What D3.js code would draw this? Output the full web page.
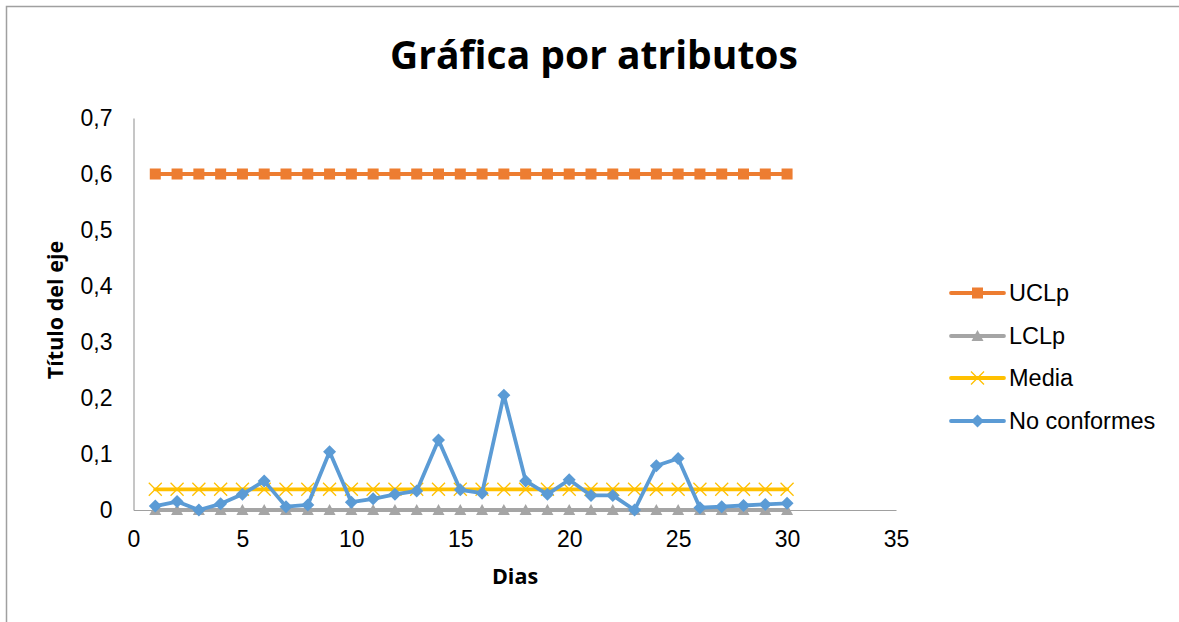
<!DOCTYPE html>
<html>
<head>
<meta charset="utf-8">
<script src="https://cdn.jsdelivr.net/npm/d3@7"></script>
<style>
  html, body { margin: 0; padding: 0; background: #fff; }
  svg { display: block; }
  text { font-family: "Liberation Sans", Arial, sans-serif; fill: #000; }
  .heading { font-family: "Open Sans", "Liberation Sans", sans-serif; font-weight: bold; }
</style>
</head>
<body>
<svg id="chart" width="1179" height="622"></svg>
<script>
// Days and series values
const dias = d3.range(1, 31);
const noConformes = [0.007, 0.015, 0.0, 0.011, 0.028, 0.052, 0.006, 0.009, 0.104, 0.014,
                     0.020, 0.028, 0.034, 0.125, 0.036, 0.030, 0.205, 0.052, 0.028, 0.054,
                     0.026, 0.026, 0.0, 0.079, 0.092, 0.004, 0.006, 0.008, 0.010, 0.012];
const uclValue = 0.6;
const lclValue = 0;
const mediaValue = 0.037;
const uclp = dias.map(() => uclValue);
const lclp = dias.map(() => lclValue);
const media = dias.map(() => mediaValue);

const xTicks = [0, 5, 10, 15, 20, 25, 30, 35];
const yTicks = [0, 0.1, 0.2, 0.3, 0.4, 0.5, 0.6, 0.7];

const svg = d3.select("#chart");

// Outer chart-area frame
svg.append("rect")
  .attr("x", 6.5).attr("y", 6.5)
  .attr("width", 1200).attr("height", 700)
  .attr("fill", "none").attr("stroke", "#a0a0a0").attr("stroke-width", 1.5);

const x = d3.scaleLinear().domain([0, 35]).range([133.5, 896]);
const y = d3.scaleLinear().domain([0, 0.7]).range([510, 118]);

const fmt = v => v === 0 ? "0" : d3.format(".1f")(v).replace(".", ",");

// Y axis
const yAxis = svg.append("g").attr("transform", `translate(${x(0)},0)`)
  .call(d3.axisLeft(y).tickValues(yTicks).tickSize(0).tickPadding(21).tickFormat(fmt));
yAxis.select(".domain").attr("stroke", "#a0a0a0").attr("stroke-width", 1.2);
yAxis.selectAll("text").style("font-size", "23px").style("font-family", "Liberation Sans, Arial, sans-serif");

// X axis
const xAxis = svg.append("g").attr("transform", `translate(0,${y(0)})`)
  .call(d3.axisBottom(x).tickValues(xTicks).tickSize(0).tickPadding(21).tickFormat(d3.format("d")));
xAxis.select(".domain").attr("stroke", "#a0a0a0").attr("stroke-width", 1.2);
xAxis.selectAll("text").style("font-size", "23px").style("font-family", "Liberation Sans, Arial, sans-serif");

// Title and axis titles
svg.append("text").attr("class", "heading").attr("x", 594).attr("y", 69).attr("text-anchor", "middle")
  .style("font-size", "39px").text("Gráfica por atributos");
svg.append("text").attr("class", "heading").attr("x", 515).attr("y", 584).attr("text-anchor", "middle")
  .style("font-size", "21.5px").text("Dias");
svg.append("text").attr("class", "heading").attr("transform", "translate(63,310) rotate(-90)").attr("text-anchor", "middle")
  .style("font-size", "21.5px").text("Título del eje");

const series = [
  { name: "UCLp", values: uclp, color: "#ED7D31", marker: "square" },
  { name: "LCLp", values: lclp, color: "#A5A5A5", marker: "triangle" },
  { name: "Media", values: media, color: "#FFC000", marker: "x" },
  { name: "No conformes", values: noConformes, color: "#5B9BD5", marker: "diamond" }
];

function drawMarker(g, type, color, cx, cy) {
  if (type === "square") {
    g.append("rect").attr("x", cx - 5.5).attr("y", cy - 5.5).attr("width", 11).attr("height", 11)
      .attr("fill", color);
  } else if (type === "triangle") {
    g.append("path").attr("d", `M${cx},${cy - 6}L${cx + 6},${cy + 5}L${cx - 6},${cy + 5}Z`)
      .attr("fill", color);
  } else if (type === "x") {
    g.append("path").attr("d", `M${cx - 6.5},${cy - 6.5}L${cx + 6.5},${cy + 6.5}M${cx - 6.5},${cy + 6.5}L${cx + 6.5},${cy - 6.5}`)
      .attr("stroke", color).attr("stroke-width", 1.3).attr("fill", "none");
  } else if (type === "diamond") {
    g.append("path").attr("d", `M${cx},${cy - 6.5}L${cx + 6.5},${cy}L${cx},${cy + 6.5}L${cx - 6.5},${cy}Z`)
      .attr("fill", color);
  }
}

const line = d3.line().x((d, i) => x(dias[i])).y(d => y(d));

series.forEach(s => {
  const g = svg.append("g");
  g.append("path").datum(s.values).attr("d", line)
    .attr("fill", "none").attr("stroke", s.color).attr("stroke-width", 3.8)
    .attr("stroke-linejoin", "round").attr("stroke-linecap", "round");
  s.values.forEach((v, i) => drawMarker(g, s.marker, s.color, x(dias[i]), y(v)));
});

// Legend
const legendY = [293, 336, 378, 421];
series.forEach((s, i) => {
  const g = svg.append("g");
  const ly = legendY[i];
  g.append("line").attr("x1", 951).attr("x2", 1004).attr("y1", ly).attr("y2", ly)
    .attr("stroke", s.color).attr("stroke-width", 3.8).attr("stroke-linecap", "round");
  drawMarker(g, s.marker, s.color, 977.5, ly);
  g.append("text").attr("x", 1009).attr("y", ly + 8).style("font-size", "23.5px").text(s.name);
});
</script>
</body>
</html>
